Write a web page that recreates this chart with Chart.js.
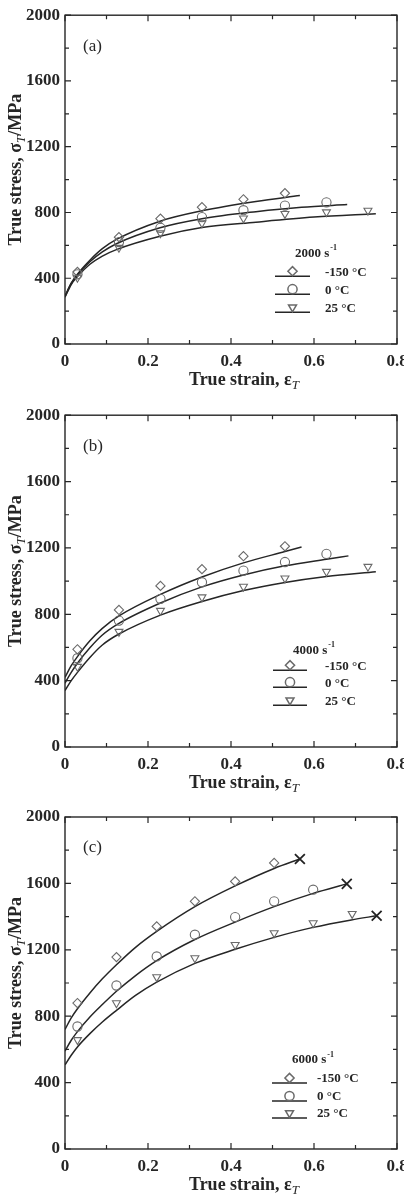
<!DOCTYPE html>
<html>
<head>
<meta charset="utf-8">
<script src="https://cdn.jsdelivr.net/npm/chart.js@4.4.1/dist/chart.umd.min.js"></script>
<style>
  html, body { margin: 0; padding: 0; background: #fff; overflow: hidden; }
  body { width: 404px; height: 1198px; position: relative; }
  .panel { position: absolute; left: 0; }
  canvas { display: block; }
</style>
</head>
<body>
<div class="panel" style="top:0px"><canvas id="chartA" width="408" height="400"></canvas></div>
<div class="panel" style="top:400px"><canvas id="chartB" width="408" height="400"></canvas></div>
<div class="panel" style="top:800px"><canvas id="chartC" width="408" height="398"></canvas></div>
<script>
// axis ticks
const xTicks = [0, 0.2, 0.4, 0.6, 0.8];
const xTickLabels = ['0', '0.2', '0.4', '0.6', '0.8'];
const xMinor = [0.1, 0.3, 0.5, 0.7];
const yTicks = [0, 400, 800, 1200, 1600, 2000];
const yTickLabels = ['0', '400', '800', '1200', '1600', '2000'];
const yMinor = [200, 600, 1000, 1400, 1800];

const temps = ['-150 \u00b0C', '0 \u00b0C', '25 \u00b0C'];
const rates = ['2000', '4000', '6000'];
const panelLabels = ['(a)', '(b)', '(c)'];

// (a) 2000 s-1  -- measured points [strain, stress]
const a_m150 = [[0.03, 438], [0.13, 650], [0.23, 762], [0.33, 832], [0.43, 880], [0.53, 917]];
const a_0 = [[0.03, 424], [0.13, 620], [0.23, 707], [0.33, 772], [0.43, 814], [0.53, 842], [0.63, 862]];
const a_25 = [[0.03, 404], [0.13, 586], [0.23, 675], [0.33, 735], [0.43, 765], [0.53, 792], [0.63, 802], [0.73, 812]];
// fitted curves
const a_fit_m150 = [[0, 290], [0.015, 370], [0.03, 425], [0.06, 510], [0.09, 580], [0.124, 636], [0.229, 747], [0.33, 810], [0.46, 867], [0.566, 903]];
const a_fit_0 = [[0, 290], [0.015, 368], [0.03, 420], [0.06, 500], [0.09, 560], [0.124, 610], [0.229, 707], [0.33, 762], [0.46, 805], [0.57, 832], [0.68, 848]];
const a_fit_25 = [[0, 285], [0.015, 362], [0.03, 410], [0.06, 485], [0.09, 535], [0.124, 574], [0.229, 655], [0.33, 708], [0.46, 741], [0.6, 772], [0.749, 792]];

// (b) 4000 s-1
const b_m150 = [[0.03, 589], [0.13, 826], [0.23, 971], [0.33, 1072], [0.43, 1150], [0.53, 1210]];
const b_0 = [[0.03, 535], [0.13, 762], [0.23, 893], [0.33, 993], [0.43, 1063], [0.53, 1115], [0.63, 1164]];
const b_25 = [[0.03, 484], [0.13, 695], [0.23, 822], [0.33, 903], [0.43, 967], [0.53, 1017], [0.63, 1057], [0.73, 1087]];
const b_fit_m150 = [[0, 420], [0.015, 490], [0.03, 545], [0.06, 640], [0.09, 715], [0.13, 790], [0.23, 920], [0.33, 1025], [0.43, 1110], [0.53, 1178], [0.57, 1205]];
const b_fit_0 = [[0, 385], [0.015, 450], [0.03, 505], [0.06, 598], [0.09, 675], [0.13, 745], [0.23, 868], [0.33, 965], [0.43, 1037], [0.53, 1092], [0.63, 1132], [0.683, 1152]];
const b_fit_25 = [[0, 340], [0.015, 400], [0.03, 450], [0.06, 540], [0.09, 615], [0.13, 681], [0.23, 795], [0.33, 877], [0.43, 943], [0.53, 992], [0.63, 1028], [0.749, 1057]];

// (c) 6000 s-1
const c_m150 = [[0.03, 879], [0.124, 1156], [0.221, 1341], [0.313, 1492], [0.41, 1612], [0.504, 1723]];
const c_0 = [[0.03, 738], [0.124, 985], [0.221, 1160], [0.313, 1291], [0.41, 1397], [0.504, 1492], [0.598, 1562]];
const c_25 = [[0.03, 657], [0.124, 879], [0.221, 1036], [0.313, 1150], [0.41, 1230], [0.504, 1301], [0.598, 1361], [0.692, 1417]];
const c_fit_m150 = [[0, 720], [0.015, 790], [0.03, 845], [0.06, 940], [0.09, 1025], [0.124, 1110], [0.17, 1215], [0.221, 1311], [0.313, 1460], [0.41, 1585], [0.504, 1690], [0.566, 1747]];
const c_fit_0 = [[0, 590], [0.015, 655], [0.03, 707], [0.06, 795], [0.09, 870], [0.124, 950], [0.17, 1045], [0.221, 1135], [0.313, 1262], [0.41, 1367], [0.504, 1460], [0.598, 1540], [0.679, 1597]];
const c_fit_25 = [[0, 507], [0.015, 565], [0.03, 615], [0.06, 695], [0.09, 765], [0.124, 835], [0.17, 925], [0.221, 1005], [0.313, 1118], [0.41, 1203], [0.504, 1275], [0.598, 1335], [0.69, 1380], [0.751, 1405]];
const c_fracture = [[0.566, 1747], [0.679, 1597], [0.751, 1405]];

const serif = '"Liberation Serif", "Times New Roman", serif';
const ink = '#262626';
const markerColor = '#6a6a6a';
const markerStyles = ['rectRot', 'circle', 'triangle'];
const markerRot = [0, 0, 180];

const pts = arr => arr.map(p => ({x: p[0], y: p[1]}));

function drawRich(ctx, parts, x, y) {
    let total = 0;
    parts.forEach(p => { ctx.font = p.font; p.w = ctx.measureText(p.t).width; total += p.w; });
    let cx = x - total / 2;
    parts.forEach(p => { ctx.font = p.font; ctx.fillText(p.t, cx, y + (p.dy || 0)); cx += p.w; });
}

function drawMarker(ctx, style, rot, x, y) {
    ctx.save();
    ctx.strokeStyle = markerColor;
    ctx.fillStyle = 'rgba(0,0,0,0)';
    Chart.helpers.drawPoint(ctx, {pointStyle: style, radius: 4.6, rotation: rot, borderWidth: 1.1}, x, y);
    ctx.restore();
}

// frame, inward ticks, titles, panel label and hand-made legend
const decor = {
    id: 'decor',
    afterDraw(chart, args, o) {
        const {ctx, chartArea: a, scales: {x, y}} = chart;
        ctx.save();
        ctx.strokeStyle = ink;
        ctx.lineWidth = 1.4;
        ctx.strokeRect(a.left, a.top, a.right - a.left, a.bottom - a.top);
        ctx.lineWidth = 1.2;
        ctx.beginPath();
        const xt = (vals, len) => vals.forEach(v => {
            const px = x.getPixelForValue(v);
            ctx.moveTo(px, a.bottom); ctx.lineTo(px, a.bottom - len);
            ctx.moveTo(px, a.top); ctx.lineTo(px, a.top + len);
        });
        const yt = (vals, len) => vals.forEach(v => {
            const py = y.getPixelForValue(v);
            ctx.moveTo(a.left, py); ctx.lineTo(a.left + len, py);
            ctx.moveTo(a.right, py); ctx.lineTo(a.right - len, py);
        });
        xt(xTicks, 6); xt(xMinor, 4);
        yt(yTicks, 6); yt(yMinor, 4);
        ctx.stroke();

        ctx.fillStyle = ink;
        ctx.textBaseline = 'alphabetic';
        // x title
        drawRich(ctx, [
            {t: 'True strain, \u03b5', font: 'bold 18px ' + serif},
            {t: 'T', font: 'italic 13px ' + serif, dy: 4}
        ], 244, a.bottom + 41);
        // y title
        ctx.save();
        ctx.translate(21, (a.top + a.bottom) / 2 - 10);
        ctx.rotate(-Math.PI / 2);
        drawRich(ctx, [
            {t: 'True stress, \u03c3', font: 'bold 18px ' + serif},
            {t: 'T', font: 'italic 13px ' + serif, dy: 4},
            {t: '/MPa', font: 'bold 18px ' + serif}
        ], 0, 0);
        ctx.restore();

        // panel label
        ctx.textBaseline = 'middle';
        ctx.textAlign = 'left';
        ctx.font = '17px ' + serif;
        ctx.fillText(o.label, a.left + 18, a.top + 31);

        // legend
        const L = o.legend;
        ctx.font = 'bold 13px ' + serif;
        ctx.fillText(o.rate + ' s', a.left + L.titleX, a.top + L.titleY);
        const tw = ctx.measureText(o.rate + ' s').width;
        ctx.font = 'bold 8px ' + serif;
        ctx.fillText('-1', a.left + L.titleX + tw + 1, a.top + L.titleY - 5);
        ctx.font = 'bold 13px ' + serif;
        L.rows.forEach((ry, i) => {
            const yy = a.top + ry;
            ctx.strokeStyle = ink;
            ctx.lineWidth = 1.5;
            ctx.beginPath();
            ctx.moveTo(a.left + L.lineX0, yy);
            ctx.lineTo(a.left + L.lineX1, yy);
            ctx.stroke();
            drawMarker(ctx, markerStyles[i], markerRot[i], a.left + (L.lineX0 + L.lineX1) / 2, yy - 5);
            ctx.fillStyle = ink;
            ctx.fillText(temps[i], a.left + L.textX, yy - 4);
        });
        ctx.restore();
    }
};

function markerSet(data, i) {
    return {
        data: pts(data), showLine: false,
        pointStyle: markerStyles[i], pointRotation: markerRot[i],
        pointRadius: 4.6, pointBorderWidth: 1.1,
        borderColor: markerColor, backgroundColor: 'rgba(0,0,0,0)',
        pointBorderColor: markerColor, pointBackgroundColor: 'rgba(0,0,0,0)'
    };
}

function fitSet(data) {
    return {
        data: pts(data), showLine: true, pointRadius: 0,
        borderColor: ink, borderWidth: 1.5, cubicInterpolationMode: 'monotone', fill: false
    };
}

function makePanel(id, idx, marks, fits, fracture, layout) {
    const datasets = marks.map((m, i) => markerSet(m, i));
    if (fracture) {
        datasets.push({
            data: pts(fracture), showLine: false, pointStyle: 'crossRot', pointRadius: 7,
            pointBorderWidth: 1.8, pointBorderColor: '#222', borderColor: '#222'
        });
    }
    fits.forEach(f => datasets.push(fitSet(f)));
    const canvas = document.getElementById(id);
    return new Chart(canvas, {
        type: 'scatter',
        data: {datasets: datasets},
        options: {
            responsive: false,
            animation: false,
            devicePixelRatio: 1,
            layout: {padding: {top: layout.top, right: 0, left: 0, bottom: 0}},
            plugins: {
                legend: {display: false},
                tooltip: {enabled: false},
                decor: {label: panelLabels[idx], rate: rates[idx], legend: layout.legend}
            },
            scales: {
                x: {
                    type: 'linear', min: 0, max: 0.8,
                    grid: {display: false, drawTicks: false},
                    border: {display: false},
                    afterBuildTicks: s => { s.ticks = xTicks.map(v => ({value: v})); },
                    afterFit: s => {
                        s.height = canvas.height - layout.bottom;
                        s.paddingRight = 11;
                        s.paddingLeft = 0;
                    },
                    ticks: {
                        callback: (v, i) => xTickLabels[i],
                        color: ink, padding: 7, maxRotation: 0, autoSkip: false,
                        font: {family: serif, size: 17, weight: 'bold'}
                    }
                },
                y: {
                    type: 'linear', min: 0, max: 2000,
                    grid: {display: false, drawTicks: false},
                    border: {display: false},
                    afterBuildTicks: s => { s.ticks = yTicks.map(v => ({value: v})); },
                    afterFit: s => { s.width = 65; },
                    ticks: {
                        callback: (v, i) => yTickLabels[i],
                        color: ink, padding: 5, autoSkip: false,
                        font: {family: serif, size: 17, weight: 'bold'}
                    }
                }
            }
        },
        plugins: [decor]
    });
}

makePanel('chartA', 0, [a_m150, a_0, a_25], [a_fit_m150, a_fit_0, a_fit_25], null,
    {top: 14, bottom: 344, legend: {titleX: 230, titleY: 238, rows: [261, 279, 297], lineX0: 210, lineX1: 245, textX: 260}});
makePanel('chartB', 1, [b_m150, b_0, b_25], [b_fit_m150, b_fit_0, b_fit_25], null,
    {top: 15, bottom: 347, legend: {titleX: 228, titleY: 235, rows: [255, 272, 290], lineX0: 208, lineX1: 242, textX: 260}});
makePanel('chartC', 2, [c_m150, c_0, c_25], [c_fit_m150, c_fit_0, c_fit_25], c_fracture,
    {top: 17, bottom: 349, legend: {titleX: 227, titleY: 243, rows: [266, 284, 301], lineX0: 207, lineX1: 242, textX: 252}});
</script>
</body>
</html>
